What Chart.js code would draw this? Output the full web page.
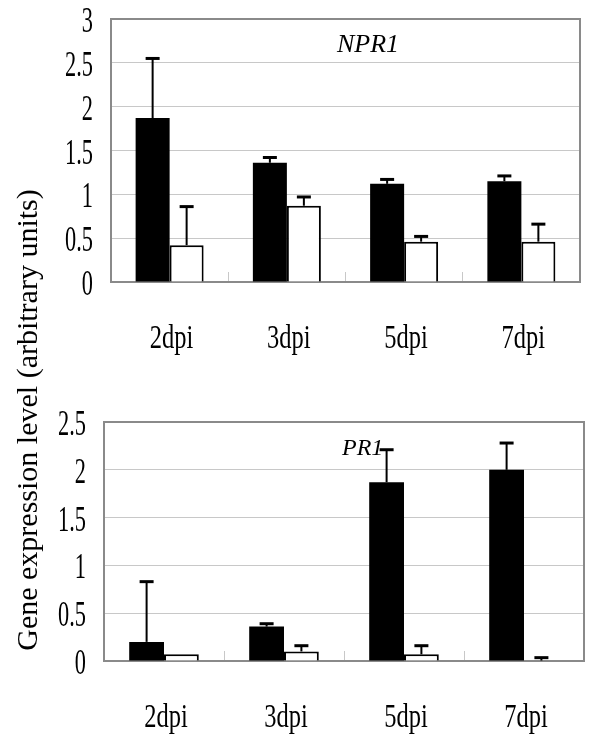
<!DOCTYPE html>
<html>
<head>
<meta charset="utf-8">
<script src="https://cdn.jsdelivr.net/npm/chart.js@4"></script>
<style>
  body { margin: 0; background: #fff; }
  #wrap { position: relative; width: 600px; height: 749px; overflow: hidden; }
  canvas { position: absolute; left: 0; }
  #ytitle {
    position: absolute; left: -273px; top: 403px; width: 600px; height: 34px;
    line-height: 34px; text-align: center; white-space: nowrap;
    font: 30px "Liberation Serif", serif; color: #000;
    transform: rotate(-90deg);
  }
</style>
</head>
<body>
<div id="wrap">
  <canvas id="npr1" width="600" height="370" style="top:0"></canvas>
  <canvas id="pr1" width="600" height="379" style="top:370px"></canvas>
  <div id="ytitle">Gene expression level (arbitrary units)</div>
</div>
<script>
const days = ['2dpi', '3dpi', '5dpi', '7dpi'];

// NPR1
const npr1Black = [1.87, 1.36, 1.12, 1.15];
const npr1BlackErr = [0.68, 0.06, 0.05, 0.06];
const npr1White = [0.42, 0.87, 0.46, 0.46];
const npr1WhiteErr = [0.44, 0.10, 0.06, 0.20];
const npr1Ticks = [0, 0.5, 1, 1.5, 2, 2.5, 3];

// PR1
const pr1Black = [0.20, 0.36, 1.87, 2.00];
const pr1BlackErr = [0.63, 0.03, 0.34, 0.28];
const pr1White = [0.07, 0.10, 0.07, 0.005];
const pr1WhiteErr = [0, 0.06, 0.09, 0.03];
const pr1Ticks = [0, 0.5, 1, 1.5, 2, 2.5];

const serif = '"Liberation Serif", serif';

// narrow tall labels, like the original figure
const squeezedLabels = {
  id: 'squeezedLabels',
  afterDraw(chart, args, opts) {
    const ctx = chart.ctx;
    const ys = chart.scales.y, xs = chart.scales.x;
    const area = chart.chartArea;
    ctx.save();
    ctx.fillStyle = '#000';
    ctx.textBaseline = 'alphabetic';
    ctx.font = '36px ' + serif;
    ctx.textAlign = 'right';
    ys.ticks.forEach(t => {
      ctx.save();
      ctx.translate(area.left - opts.yGap, ys.getPixelForValue(t.value) + 13);
      ctx.scale(0.62, 1);
      ctx.fillText(String(t.value), 0, 0);
      ctx.restore();
    });
    ctx.font = '34px ' + serif;
    ctx.textAlign = 'center';
    chart.data.labels.forEach((lab, i) => {
      ctx.save();
      ctx.translate(xs.getPixelForValue(i) + 2, area.bottom + 66);
      ctx.scale(0.72, 1);
      ctx.fillText(lab, 0, 0);
      ctx.restore();
    });
    // gene name
    ctx.font = 'italic ' + opts.nameSize + 'px ' + serif;
    ctx.textAlign = 'left';
    ctx.fillText(opts.name, area.left + opts.nameX, area.top + opts.nameY);
    ctx.restore();
  }
};

const frame = {
  id: 'frame',
  beforeDatasetsDraw(chart) {
    const a = chart.chartArea, ctx = chart.ctx;
    ctx.save();
    ctx.strokeStyle = '#8a8a8a';
    ctx.lineWidth = 2;
    ctx.strokeRect(a.left, a.top, a.right - a.left, a.bottom - a.top);
    ctx.restore();
  }
};

const errorBars = {
  id: 'errorBars',
  afterDatasetsDraw(chart) {
    const ctx = chart.ctx, ys = chart.scales.y;
    ctx.save();
    ctx.strokeStyle = '#000';
    chart.data.datasets.forEach((ds, di) => {
      chart.getDatasetMeta(di).data.forEach((bar, i) => {
        const e = ds.errors[i];
        if (!e) return;
        const y0 = ys.getPixelForValue(ds.data[i]);
        const y1 = ys.getPixelForValue(ds.data[i] + e);
        ctx.lineWidth = 2;
        ctx.beginPath();
        ctx.moveTo(bar.x, y0);
        ctx.lineTo(bar.x, y1);
        ctx.stroke();
        ctx.lineWidth = 3;
        ctx.beginPath();
        ctx.moveTo(bar.x - 7, y1);
        ctx.lineTo(bar.x + 7, y1);
        ctx.stroke();
      });
    });
    ctx.restore();
  }
};

function makeChart(id, black, blackErr, white, whiteErr, ticks, cfg) {
  return new Chart(document.getElementById(id), {
    type: 'bar',
    data: {
      labels: days,
      datasets: [
        { data: black, errors: blackErr, backgroundColor: '#000', borderWidth: 0 },
        { data: white, errors: whiteErr, backgroundColor: '#fff', borderColor: '#000', borderWidth: 2 }
      ]
    },
    options: {
      responsive: false,
      animation: false,
      devicePixelRatio: 1,
      layout: { padding: { top: cfg.top, right: cfg.right, left: 0, bottom: 0 } },
      datasets: { bar: { barPercentage: 1, categoryPercentage: 0.58 } },
      plugins: {
        legend: { display: false },
        tooltip: { enabled: false },
        squeezedLabels: { yGap: 18, name: cfg.name, nameSize: cfg.nameSize, nameX: cfg.nameX, nameY: cfg.nameY }
      },
      scales: {
        x: {
          ticks: { display: false },
          grid: { offset: true, drawOnChartArea: false, drawTicks: true, tickLength: -10, color: '#c8c8c8' },
          border: { display: true, color: '#8a8a8a', width: 2 },
          afterFit: s => { s.height = 88; }
        },
        y: {
          min: 0,
          max: ticks[ticks.length - 1],
          afterBuildTicks: s => { s.ticks = ticks.map(v => ({ value: v })); },
          ticks: { display: false },
          grid: { drawTicks: false, color: '#c8c8c8', lineWidth: 1 },
          border: { display: true, color: '#8a8a8a', width: 2 },
          afterFit: s => { s.width = cfg.yWidth; }
        }
      }
    },
    plugins: [frame, errorBars, squeezedLabels]
  });
}

makeChart('npr1', npr1Black, npr1BlackErr, npr1White, npr1WhiteErr, npr1Ticks,
  { top: 19, right: 20, yWidth: 111, name: 'NPR1', nameSize: 26, nameX: 226, nameY: 33 });
makeChart('pr1', pr1Black, pr1BlackErr, pr1White, pr1WhiteErr, pr1Ticks,
  { top: 52, right: 16, yWidth: 104, name: 'PR1', nameSize: 24, nameX: 238, nameY: 33 });
</script>
</body>
</html>
